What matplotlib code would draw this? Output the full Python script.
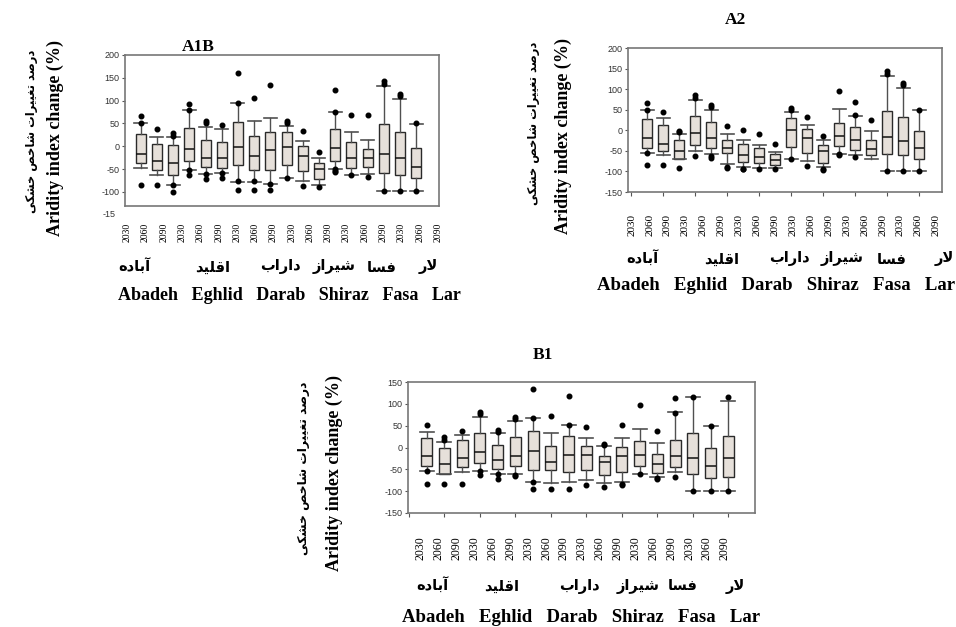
import matplotlib
matplotlib.use('Agg')
import matplotlib.pyplot as plt

W, H = 956, 627

years = ['2030', '2060', '2090'] * 6
cities_en = ['Abadeh', 'Eghlid', 'Darab', 'Shiraz', 'Fasa', 'Lar']
cities_fa = ['آباده', 'اقلید', 'داراب', 'شیراز', 'فسا', 'لار']
ylabel_en = 'Aridity index change (%)'
ylabel_fa = 'درصد تغییرات شاخص خشکی'

# A1B scenario
a1b_med = [-17.5, -32.8, -37.2, -5.8, -24.8, -24.8, -0.7, -20.4, -8.0,
           -0.7, -20.4, -49.6, -2.9, -24.8, -24.8, -17.5, -25.5, -44.5]
a1b_q1 = [-36.5, -51, -63.5, -31.4, -45.2, -48.1, -40.8, -52.5, -52.5,
          -40.1, -54, -71.5, -32.8, -48.1, -45.2, -58.3, -62, -70]
a1b_q3 = [27.7, 4.4, 2.9, 39.4, 13.1, 8.8, 52.5, 23.3, 32.1,
          30.6, 1.5, -35.7, 37.9, 9.5, -5.1, 48.1, 32.1, -3.6]
a1b_lo = [-47.4, -63.5, -84.6, -51.8, -61.3, -58.3, -77.3, -77.3, -82.4,
          -70, -75.8, -85.3, -50.3, -62, -61.3, -98.5, -98.5, -99.2]
a1b_hi = [51, 19.7, 19.7, 78.8, 43, 37.2, 94, 55.4, 61.3,
          44.4, 11.7, -25.5, 74.4, 31.4, 14.6, 131.3, 104.3, 49.6]
a1b_fliers = [[66, 51, -85], [37, -85], [29, 22, -85, -100], [92, 79, -52, -62],
              [56, 50, -61, -71], [46, -59, -69], [161, 94, -77, -95], [106, -77, -95],
              [135, -82, -95], [55, 50, -70], [34, -88], [-13, -89],
              [124, 74, -50, -55, -57], [69, -62], [69, -67], [143, 136, -99],
              [115, 110, -99], [50, -99]]

# A2 scenario
a2_med = [-17.6, -32.3, -51.1, -7.8, -19.2, -43.7, -60.1, -65, -71.5,
          0.4, -19.2, -51.1, -13.5, -23.3, -46.1, -15.9, -24.9, -43.7]
a2_q1 = [-43.7, -50.3, -69.1, -34.7, -43.7, -56, -78.1, -80.6, -84.6,
         -39.7, -54.4, -80.6, -38, -48.6, -60.9, -57.6, -60.9, -69.1]
a2_q3 = [27.5, 12.7, -24.1, 35.6, 20.1, -24.1, -33.9, -42.1, -58.4,
         30.7, 2.9, -35.6, 18.4, 6.9, -22.5, 47.8, 32.4, -2]
a2_lo = [-54.4, -60.9, -69.1, -51.1, -57.6, -81.4, -89.5, -91.1, -91.1,
         -69.9, -74.8, -89.5, -56.8, -60, -70.7, -99.3, -99.3, -99.3]
a2_hi = [50.3, 29, -9.4, 72.4, 50.3, -9.4, -24.1, -34.7, -52.7,
         45.4, 12.7, -24.1, 52.7, 34.8, -1.1, 131.2, 103.4, 49.5]
a2_fliers = [[67, 50, -85, -54], [44, -85], [-1, -5, -91], [85, 79, -63],
             [62, 56, -68, -63], [11, -89, -91], [1, -93, -95], [-9, -94],
             [-34, -94], [54, 49, -70], [33, -88], [-13, -93, -96],
             [96, -58, -60], [68, 36, -65], [26], [143, 138, -99],
             [116, 110, -99], [50, -99]]

# B1 scenario
b1_med = [-19.4, -38.4, -23.2, -11, -29.2, -20.1, -8, -33.8, -16.3,
          -16.9, -33, -19.4, -16.9, -38.4, -20.1, -24.7, -42.9, -24.7]
b1_q1 = [-42.9, -59.6, -45.2, -35.3, -48.3, -42.9, -50.6, -50.6, -55.8,
         -50.6, -62.7, -56.6, -42.9, -58.9, -45.2, -60.5, -69.5, -66.5]
b1_q3 = [21, -1.1, 16.4, 32.3, 5.7, 23.2, 38.3, 4.1, 26.2,
         4.1, -20.1, 1.9, 15.6, -14.8, 16.4, 32.3, -1.9, 26.2]
b1_lo = [-53.6, -61, -55.1, -53.6, -61.2, -60.5, -77.9, -81.7, -77.9,
         -74.8, -82.4, -77.9, -61.2, -66.5, -56.6, -99.2, -99.2, -99.2]
b1_hi = [36.1, 12.5, 28.5, 68.8, 32.3, 60.4, 66.5, 33, 50.5,
         20.9, 2.7, 20.9, 42.2, 9.5, 80.2, 115.8, 49.7, 107.6]
b1_fliers = [[51, -54, -84], [23, 18, -84], [38, -84], [82, 76, -63, -54],
             [41, 36, -72, -61], [70, 66, -63, -66], [135, 67, -94, -78], [73, -94],
             [118, 51, -94], [46, -87], [8, 5, -90], [51, -84, -87],
             [98, -61], [37, -69, -72], [114, 80, -67], [116, -99],
             [50, -99], [116, -99]]


# matplotlib has no Arabic shaping, so build the joined presentation forms by hand
FORMS = {
    'ا': ('\uFE8D', '\uFE8E', None, None),
    'آ': ('\uFE81', '\uFE82', None, None),
    'ب': ('\uFE8F', '\uFE90', '\uFE91', '\uFE92'),
    'ت': ('\uFE95', '\uFE96', '\uFE97', '\uFE98'),
    'خ': ('\uFEA5', '\uFEA6', '\uFEA7', '\uFEA8'),
    'د': ('\uFEA9', '\uFEAA', None, None),
    'ر': ('\uFEAD', '\uFEAE', None, None),
    'ز': ('\uFEAF', '\uFEB0', None, None),
    'س': ('\uFEB1', '\uFEB2', '\uFEB3', '\uFEB4'),
    'ش': ('\uFEB5', '\uFEB6', '\uFEB7', '\uFEB8'),
    'ص': ('\uFEB9', '\uFEBA', '\uFEBB', '\uFEBC'),
    'غ': ('\uFECD', '\uFECE', '\uFECF', '\uFED0'),
    'ف': ('\uFED1', '\uFED2', '\uFED3', '\uFED4'),
    'ق': ('\uFED5', '\uFED6', '\uFED7', '\uFED8'),
    'ک': ('\uFB8E', '\uFB8F', '\uFB90', '\uFB91'),
    'ل': ('\uFEDD', '\uFEDE', '\uFEDF', '\uFEE0'),
    'ه': ('\uFEE9', '\uFEEA', '\uFEEB', '\uFEEC'),
    'ی': ('\uFBFC', '\uFBFD', '\uFBFE', '\uFBFF'),
}


def shape_fa(text):
    out = []
    i = 0
    while i < len(text):
        c = text[i]
        if c not in FORMS:
            out.append(c)
            i += 1
            continue
        prev = text[i - 1] if i > 0 else None
        joins_prev = prev in FORMS and FORMS[prev][2] is not None
        if c == 'ل' and i + 1 < len(text) and text[i + 1] == 'ا':
            out.append('\uFEFC' if joins_prev else '\uFEFB')
            i += 2
            continue
        nxt = text[i + 1] if i + 1 < len(text) else None
        joins_next = FORMS[c][2] is not None and nxt in FORMS
        iso, fin, ini, med = FORMS[c]
        if joins_prev and joins_next:
            out.append(med)
        elif joins_prev:
            out.append(fin)
        elif joins_next:
            out.append(ini)
        else:
            out.append(iso)
        i += 1
    return ''.join(reversed(out))


def px_rect(left, top, right, bottom):
    return [left / W, 1 - bottom / H, (right - left) / W, (bottom - top) / H]


def ftext(x, y, s, **kw):
    fig.text(x / W, 1 - y / H, s, **kw)


def draw_panel(rect, med, q1, q3, lo, hi, fliers, xlim, ylim, yticks,
               lab_first, lab_step, lab_pad, lab_size, tick_marks):
    ax = fig.add_axes(rect)
    stats = []
    for k in range(len(med)):
        stats.append(dict(med=med[k], q1=q1[k], q3=q3[k], whislo=lo[k],
                          whishi=hi[k], fliers=fliers[k]))
    pos = list(range(1, len(med) + 1))
    ax.bxp(stats, positions=pos, widths=0.62, capwidths=0.8,
           patch_artist=True, manage_ticks=False,
           boxprops=dict(facecolor='#e6e0da', edgecolor='#2a2a2a', linewidth=1.0),
           medianprops=dict(color='#111111', linewidth=1.1),
           whiskerprops=dict(color='#505050', linewidth=1.0),
           capprops=dict(color='#505050', linewidth=1.2),
           flierprops=dict(marker='o', markerfacecolor='black',
                           markeredgecolor='black', markersize=3.3))
    ax.set_xlim(*xlim)
    ax.set_ylim(*ylim)
    ax.set_yticks(yticks)
    ax.set_yticklabels([str(v) for v in yticks], fontsize=6.5,
                       family='Liberation Sans', color='#333333')
    ax.tick_params(axis='y', length=2, width=0.8, pad=2, color='#555555')
    lab_pos = [lab_first + lab_step * k for k in range(len(years))]
    ax.set_xticks(lab_pos)
    ax.set_xticklabels(years, rotation=90, fontsize=lab_size,
                       family='Liberation Serif')
    ax.tick_params(axis='x', which='major', length=0, pad=lab_pad)
    if tick_marks:
        ax.set_xticks(list(range(0, 19, 2)), minor=True)
        ax.tick_params(axis='x', which='minor', length=3, width=0.8, color='#555555')
    for sp in ax.spines.values():
        sp.set_color('#777777')
        sp.set_linewidth(1.2)
    return ax


fig = plt.figure(figsize=(W / 100, H / 100), dpi=100)

fa_font = dict(family='DejaVu Sans', fontweight='bold')
en_font = dict(family='Liberation Serif', fontweight='bold')

# ---- A1B ----
ax1 = draw_panel(px_rect(125, 55, 439, 206), a1b_med, a1b_q1, a1b_q3, a1b_lo,
                 a1b_hi, a1b_fliers, (0.03, 19.41), (-131, 200),
                 [-100, -50, 0, 50, 100, 150, 200], 0.17, 1.128, 12, 7, False)
ax1.text(-0.03, -150, '-15', transform=ax1.get_yaxis_transform(), ha='right',
         va='center', fontsize=6.5, family='Liberation Sans', color='#333333',
         clip_on=False)
ftext(198, 47, 'A1B', ha='center', va='center', fontsize=12.5, **en_font)
ftext(32, 131, shape_fa(ylabel_fa), rotation=90, ha='center', va='center',
      fontsize=8.3, **fa_font)
ftext(55, 138, ylabel_en, rotation=90, ha='center', va='center',
      fontsize=13, **en_font)
for x, name in zip([134, 213, 280, 334, 382, 428], cities_fa):
    ftext(x, 267, shape_fa(name), ha='center', va='center', fontsize=10.5, **fa_font)
ftext(118, 296, '   '.join(cities_en), ha='left', va='center', fontsize=13, **en_font)

# ---- A2 ----
ax2 = draw_panel(px_rect(628, 48, 942, 192), a2_med, a2_q1, a2_q3, a2_lo,
                 a2_hi, a2_fliers, (-0.2, 19.42), (-150, 200),
                 [-150, -100, -50, 0, 50, 100, 150, 200], 0.03, 1.12, 16, 8, True)
ftext(735, 20, 'A2', ha='center', va='center', fontsize=12.5, **en_font)
ftext(533, 123, shape_fa(ylabel_fa), rotation=90, ha='center', va='center',
      fontsize=8.3, **fa_font)
ftext(563, 136, ylabel_en, rotation=90, ha='center', va='center',
      fontsize=13, **en_font)
for x, name in zip([642, 722, 789, 842, 892, 944], cities_fa):
    ftext(x, 259, shape_fa(name), ha='center', va='center', fontsize=10.5, **fa_font)
ftext(597, 286, '   '.join(cities_en), ha='left', va='center', fontsize=13.5, **en_font)

# ---- B1 ----
ax3 = draw_panel(px_rect(408, 382, 755, 513), b1_med, b1_q1, b1_q3, b1_lo,
                 b1_hi, b1_fliers, (-0.05, 19.5), (-150, 150),
                 [-150, -100, -50, 0, 50, 100, 150], 0.68, 1.007, 17, 8.5, True)
ftext(543, 355, 'B1', ha='center', va='center', fontsize=12.5, **en_font)
ftext(303, 468, shape_fa(ylabel_fa), rotation=90, ha='center', va='center',
      fontsize=8.8, **fa_font)
ftext(334, 473, ylabel_en, rotation=90, ha='center', va='center',
      fontsize=13, **en_font)
for x, name in zip([432, 502, 579, 638, 683, 735], cities_fa):
    ftext(x, 586, shape_fa(name), ha='center', va='center', fontsize=10.5, **fa_font)
ftext(402, 617, '   '.join(cities_en), ha='left', va='center', fontsize=13.5, **en_font)

fig.savefig('out.png', dpi=100)
